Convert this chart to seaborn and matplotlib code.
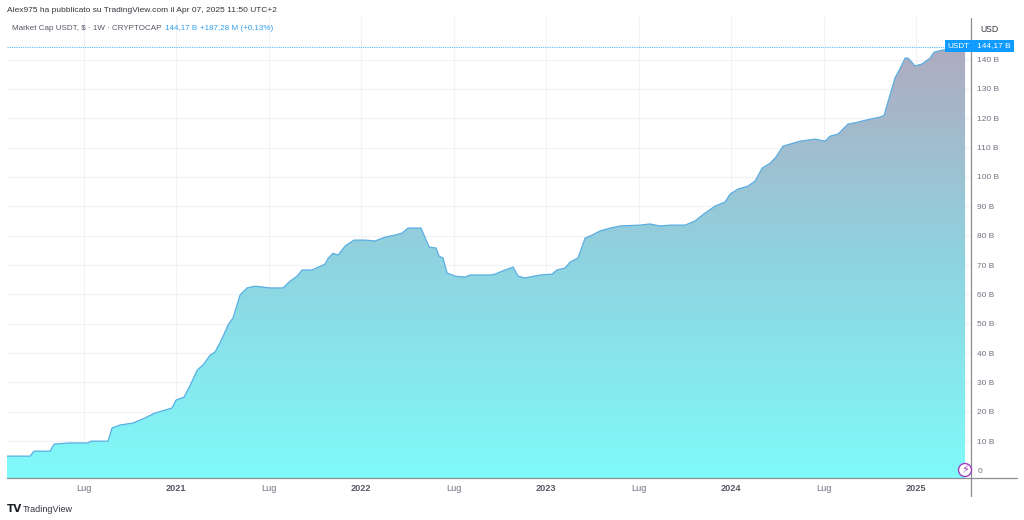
import matplotlib
matplotlib.use("Agg")
import matplotlib.pyplot as plt
from matplotlib.lines import Line2D
from matplotlib.patches import Rectangle, Circle
from matplotlib.transforms import IdentityTransform
from matplotlib.colors import LinearSegmentedColormap
import numpy as np
import pandas as pd
import seaborn as sns

# date as fractional year, weekly close (billions USD)
anni = [2020.086, 2020.211, 2020.232, 2020.319, 2020.341, 2020.427, 2020.524, 2020.541, 2020.632, 2020.654,
        2020.697, 2020.768, 2020.832, 2020.886, 2020.941, 2020.978, 2021.0, 2021.043, 2021.076, 2021.114,
        2021.146, 2021.184, 2021.211, 2021.249, 2021.281, 2021.308, 2021.346, 2021.384, 2021.427, 2021.508,
        2021.578, 2021.616, 2021.654, 2021.681, 2021.735, 2021.805, 2021.822, 2021.849, 2021.876, 2021.914,
        2021.962, 2022.022, 2022.076, 2022.130, 2022.184, 2022.222, 2022.254, 2022.324, 2022.368, 2022.405,
        2022.422, 2022.443, 2022.465, 2022.508, 2022.562, 2022.589, 2022.697, 2022.724, 2022.778, 2022.822,
        2022.849, 2022.886, 2022.968, 2023.032, 2023.059, 2023.103, 2023.130, 2023.173, 2023.211, 2023.249,
        2023.292, 2023.346, 2023.400, 2023.508, 2023.562, 2023.616, 2023.670, 2023.751, 2023.805, 2023.859,
        2023.914, 2023.968, 2023.995, 2024.038, 2024.092, 2024.130, 2024.168, 2024.211, 2024.238, 2024.281,
        2024.319, 2024.373, 2024.454, 2024.508, 2024.535, 2024.578, 2024.632, 2024.686, 2024.751, 2024.805,
        2024.827, 2024.859, 2024.886, 2024.914, 2024.941, 2024.957, 2024.995, 2025.032, 2025.076, 2025.097,
        2025.141, 2025.265]
cap = [4.9, 4.9, 6.6, 6.6, 9.0, 9.4, 9.4, 10.0, 10.0, 14.5,
       15.5, 16.2, 17.9, 19.6, 20.6, 21.3, 24.0, 25.0, 29.0, 34.2,
       36.0, 39.3, 40.4, 45.0, 49.6, 52.0, 59.8, 62.2, 62.8, 62.2,
       62.2, 64.5, 66.2, 68.3, 68.3, 70.3, 72.3, 74.0, 73.4, 76.5,
       78.5, 78.5, 78.2, 79.5, 80.2, 80.9, 82.6, 82.6, 76.1, 75.8,
       73.0, 72.4, 67.3, 66.2, 65.9, 66.6, 66.6, 66.9, 68.3, 69.3,
       66.2, 65.6, 66.6, 66.9, 68.3, 69.0, 71.0, 72.4, 79.2, 80.2,
       81.6, 82.6, 83.3, 83.6, 84.0, 83.3, 83.6, 83.6, 85.0, 87.7,
       90.1, 91.5, 94.2, 95.9, 96.9, 98.6, 103.0, 104.7, 106.4, 110.5,
       111.2, 112.2, 112.9, 112.2, 113.9, 114.6, 118.0, 118.7, 119.7, 120.4,
       121.0, 127.9, 133.7, 137.0, 140.5, 140.5, 137.8, 138.5, 140.5, 142.5,
       143.2, 144.17]

tick_anni = [2020.5, 2021, 2021.5, 2022, 2022.5, 2023, 2023.5, 2024, 2024.5, 2025]
tick_nomi = ["Lug", "2021", "Lug", "2022", "Lug", "2023", "Lug", "2024", "Lug", "2025"]
tick_valori = list(range(0, 150, 10))
tick_valori_nomi = ["0"] + [f"{v} B" for v in tick_valori[1:]]

W, H = 1024, 520
GRIGIO = "#6f7480"
BLU = "#0f9bff"

sns.set_theme(style="white")
plt.rcParams["font.family"] = ["Liberation Sans", "DejaVu Sans"]

fig = plt.figure(figsize=(W / 100, H / 100), dpi=100, facecolor="white")
# axes box in pixels: x 7..971, y 17..478
ax = fig.add_axes([7 / W, 1 - 478 / H, (971 - 7) / W, (478 - 17) / H])

df = pd.DataFrame({"anno": anni, "cap": cap})
y_min, y_max = -2.55, 154.5
x_min, x_max = 2020.086, 2025.297

# griglia
ax.set_axisbelow(True)
ax.grid(True, color="#f1f3f8", lw=0.9)

# area a gradiente
cmap = LinearSegmentedColormap.from_list("usdt", ["#7ffafa", "#8fd3e0", "#b0aabf"])
area = ax.fill_between(df["anno"], df["cap"], y_min, color="none", lw=0)
img = ax.imshow(np.linspace(0, 1, 256).reshape(-1, 1), origin="lower", aspect="auto", cmap=cmap,
                extent=[x_min, x_max, y_min, 146], zorder=2)
img.set_clip_path(area.get_paths()[0], transform=ax.transData)

sns.lineplot(data=df, x="anno", y="cap", ax=ax, color="#5aaee3", lw=0.9, zorder=3, errorbar=None)

# linea del prezzo
ax.axhline(144.17, color="#5db8f8", lw=0.8, ls=(0, (1, 1)), zorder=3)

ax.set_xlim(x_min, x_max)
ax.set_ylim(y_min, y_max)
ax.set_xlabel("")
ax.set_ylabel("")
ax.set_xticks(tick_anni)
ax.set_xticklabels(tick_nomi)
ax.yaxis.tick_right()
ax.set_yticks(tick_valori)
ax.set_yticklabels(tick_valori_nomi)
ax.tick_params(axis="y", length=0, pad=4.5, labelsize=6.0, labelcolor=GRIGIO)
ax.tick_params(axis="x", length=0, pad=4, labelsize=6.6, labelcolor=GRIGIO)
for lab in ax.get_xticklabels():
    if lab.get_text() != "Lug":
        lab.set_fontweight("bold")
        lab.set_color("#555a64")
for s in ax.spines.values():
    s.set_visible(False)


def px(x, y):
    return x / W, 1 - y / H


# assi disegnati in pixel, oltre il riquadro
fig.add_artist(Line2D([7 / W, 1017 / W], [1 - 478 / H] * 2, color="#8a8e96", lw=0.9))
fig.add_artist(Line2D([971 / W] * 2, [1 - 18 / H, 1 - 496 / H], color="#8a8e96", lw=0.9))

# etichetta prezzo
fig.add_artist(Rectangle(px(945, 52), 69 / W, 12 / H, transform=fig.transFigure, color=BLU, lw=0, zorder=5))
fig.text(*px(947, 46), "USDT", color="white", fontsize=5.9, va="center", zorder=6)
fig.text(*px(977, 46), "144,17 B", color="white", fontsize=6.0, va="center", zorder=6)
fig.text(*px(980, 29), "USD", color="#33363d", fontsize=6.2, va="center")

# testi in alto
fig.text(*px(7, 10), "Alex975 ha pubblicato su TradingView.com il Apr 07, 2025 11:50 UTC+2",
         color="#33363d", fontsize=6.0, va="center")
fig.text(*px(12, 28), "Market Cap USDT, $ · 1W · CRYPTOCAP", color="#555a64", fontsize=5.8, va="center")
fig.text(*px(165, 28), "144,17 B", color="#2f9ff0", fontsize=5.8, va="center")
fig.text(*px(200, 28), "+187,28 M (+0,13%)", color="#2f9ff0", fontsize=5.8, va="center")

# lampo viola
cx, cy = 965, 470
badge = Circle((cx, H - cy), 6.5, fc="white", ec="#a23fc0", lw=1.0, zorder=7)
badge.set_transform(IdentityTransform())
fig.add_artist(badge)
fig.text(*px(cx, cy), "⚡", color="#a23fc0", fontsize=8, ha="center", va="center", zorder=8,
         family="DejaVu Sans")

# logo
fig.text(*px(7, 509), "TV", color="#1f2128", fontsize=7.5, fontweight="bold", va="center", family="DejaVu Sans")
fig.text(*px(23, 509), "TradingView", color="#33363d", fontsize=6.5, va="center")

fig.savefig("out.png", dpi=100, facecolor="white")
